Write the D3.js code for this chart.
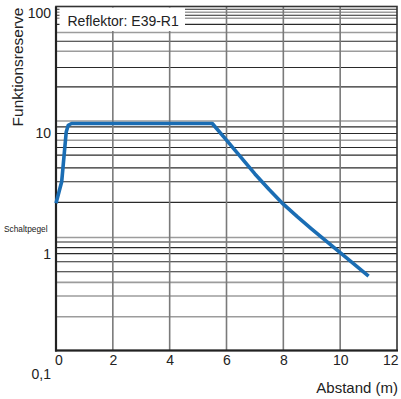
<!DOCTYPE html>
<html>
<head>
<meta charset="utf-8">
<script src="https://cdn.jsdelivr.net/npm/d3@7"></script>
<style>
	body { margin: 0; background: #fff; }
	text { font-family: "Liberation Sans", Arial, sans-serif; fill: #222; }
</style>
</head>
<body>
<div id="chart-area"></div>
<script>
// curve
const distance = [0, 0.2, 0.36, 0.43, 0.55, 5.5, 6, 7, 7.5, 8, 8.5, 9, 10, 11];
const reserve = [2.62, 3.96, 10.3, 11.7, 12.1, 12.1, 8.8, 4.6, 3.42, 2.58, 2.02, 1.6, 1.02, 0.65];

const xTicks = [0, 2, 4, 6, 8, 10, 12];
const yTicks = [100, 10, 1, 0.1];
const yTickLabels = ["100", "10", "1", "0,1"];

// irregular horizontal grid of the datasheet
const gridDark = [108, 96.4, 81, 58.6, 35.4, 24.4, 11.35, 10, 7.65, 6.6, 5.17, 3.96, 2.67, 1.25, 1.12, 1, 0.855, 0.706];
const gridLight = [102, 91, 69.2, 48.4, 12.7, 8.79, 1.36, 0.576, 0.443, 0.298];
const gridX = [2, 4, 6, 8, 10];

const legendText = "Reflektor: E39-R1";

const width = 401;
const height = 399;
const margin = {top: 6.5, right: 4, bottom: 48.5, left: 56};

var svg = d3.select("#chart-area").append("svg")
	.attr("width", width)
	.attr("height", height);

var x = d3.scaleLinear()
	.domain([0, 12])
	.range([margin.left, width - margin.right]);

var y = d3.scaleLog()
	.domain([0.156, 114])
	.range([height - margin.bottom, margin.top]);

// horizontal grid
svg.selectAll(".hgrid-light")
	.data(gridLight)
	.enter().append("line")
	.attr("class", "hgrid-light")
	.attr("x1", x(0)).attr("x2", x(12))
	.attr("y1", d => y(d)).attr("y2", d => y(d))
	.attr("stroke", "#9c9c9c")
	.attr("stroke-width", 1.6);

svg.selectAll(".hgrid-dark")
	.data(gridDark)
	.enter().append("line")
	.attr("class", "hgrid-dark")
	.attr("x1", x(0)).attr("x2", x(12))
	.attr("y1", d => y(d)).attr("y2", d => y(d))
	.attr("stroke", "#2a2a2a")
	.attr("stroke-width", 1.1);

// vertical grid
svg.selectAll(".vgrid")
	.data(gridX)
	.enter().append("line")
	.attr("class", "vgrid")
	.attr("x1", d => x(d)).attr("x2", d => x(d))
	.attr("y1", y.range()[1]).attr("y2", y.range()[0])
	.attr("stroke", "#7a7a7a")
	.attr("stroke-width", 1.6);

// legend box
svg.append("rect")
	.attr("x", 59.5)
	.attr("y", margin.top + 1)
	.attr("width", 125.5)
	.attr("height", 23.5)
	.attr("fill", "#fff");

svg.append("text")
	.attr("x", 67.5)
	.attr("y", 26)
	.attr("font-size", 14)
	.text(legendText);

// frame
svg.append("rect")
	.attr("x", x(0))
	.attr("y", y.range()[1])
	.attr("width", x(12) - x(0))
	.attr("height", y.range()[0] - y.range()[1])
	.attr("fill", "none")
	.attr("stroke", "#333")
	.attr("stroke-width", 1.6);

svg.append("line")
	.attr("x1", x(0)).attr("x2", x(0))
	.attr("y1", y.range()[1]).attr("y2", y.range()[0] + 1)
	.attr("stroke", "#222")
	.attr("stroke-width", 2.2);

svg.append("line")
	.attr("x1", x(0) - 1).attr("x2", x(12) + 1)
	.attr("y1", y.range()[0]).attr("y2", y.range()[0])
	.attr("stroke", "#222")
	.attr("stroke-width", 2.2);

// curve
var line = d3.line()
	.x((d, i) => x(distance[i]))
	.y(d => y(d));

svg.append("path")
	.datum(reserve)
	.attr("fill", "none")
	.attr("stroke", "#1a6db4")
	.attr("stroke-width", 3.6)
	.attr("stroke-linejoin", "round")
	.attr("d", line);

// axes
var yAxis = svg.append("g")
	.attr("transform", `translate(${margin.left},0)`)
	.call(d3.axisLeft(y).tickValues(yTicks).tickSize(0).tickPadding(5)
		.tickFormat((d, i) => yTickLabels[i]));
yAxis.select(".domain").remove();
yAxis.selectAll("text")
	.attr("font-size", 14)
	.attr("font-family", "Liberation Sans, Arial, sans-serif")
	.attr("fill", "#222");

var xAxis = svg.append("g")
	.attr("transform", `translate(0,${y.range()[0]})`)
	.call(d3.axisBottom(x).tickValues(xTicks).tickSize(0).tickPadding(5));
xAxis.select(".domain").remove();
xAxis.selectAll("text")
	.attr("font-size", 14)
	.attr("font-family", "Liberation Sans, Arial, sans-serif")
	.attr("fill", "#222")
	.attr("text-anchor", d => d === 12 ? "end" : "middle")
	.attr("dx", d => d === 0 ? 2.5 : (d === 12 ? 1 : 0));

// titles
svg.append("text")
	.attr("transform", "translate(23,67) rotate(-90)")
	.attr("text-anchor", "middle")
	.attr("font-size", 15.5)
	.text("Funktionsreserve");

svg.append("text")
	.attr("x", 398)
	.attr("y", 392.5)
	.attr("text-anchor", "end")
	.attr("font-size", 15)
	.text("Abstand (m)");

svg.append("text")
	.attr("x", 4)
	.attr("y", 232)
	.attr("font-size", 9.7)
	.attr("textLength", 43.5)
	.attr("lengthAdjust", "spacingAndGlyphs")
	.text("Schaltpegel");
</script>
</body>
</html>
